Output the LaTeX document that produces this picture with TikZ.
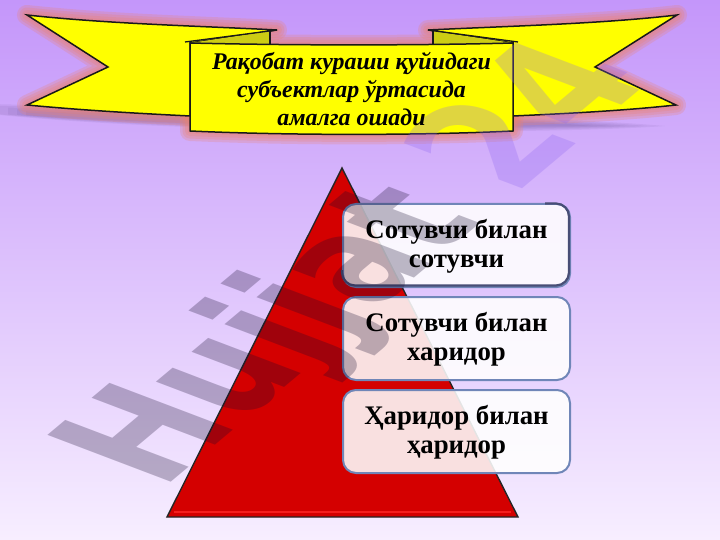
\documentclass[tikz,border=0pt]{standalone}
\usepackage{fontspec}
\setmainfont{Liberation Serif}
\newfontfamily\wmfont{DejaVu Sans}
\definecolor{bgtop}{RGB}{196,150,250}
\definecolor{bgmid}{RGB}{226,205,250}
\definecolor{bgbot}{RGB}{247,238,255}
\definecolor{glowc}{RGB}{235,130,110}
\definecolor{shadowc}{RGB}{70,50,110}
\definecolor{olive}{RGB}{205,205,20}
\definecolor{ribbon}{RGB}{255,255,0}
\definecolor{trired}{RGB}{212,0,0}
\definecolor{trilight}{RGB}{245,30,30}
\definecolor{boxedge}{RGB}{112,134,184}
\definecolor{boxdark}{RGB}{72,78,118}
\definecolor{wmgray}{RGB}{20,10,45}
\definecolor{wmviolet}{RGB}{140,100,240}
\tikzset{
  ribbonshape/.style={fill=ribbon,draw=black!90,line width=1.5pt,line join=miter},
  glow/.style={draw=glowc,fill=glowc,opacity=.25,line join=round},
  pane/.style={draw=boxedge,line width=2pt,fill=white,fill opacity=.88,rounded corners=13pt},
  panetext/.style={font=\fontsize{26.8}{28.5}\selectfont\bfseries,align=center,text=black,inner sep=0pt,yshift=-1pt},
  bannertext/.style={font=\fontsize{23.9}{28}\selectfont\bfseries\itshape,align=center,text=black,inner sep=0pt},
  wmtext/.style={font=\wmfont\bfseries\fontsize{181}{181}\selectfont,anchor=base west,inner sep=0pt,transform shape}
}
\newcommand{\lefttail}{(27,15) .. controls (110,24) and (200,26) .. (277,30) -- (190,43) -- (190,116) .. controls (130,113) and (80,110) .. (27,105) -- (108,67) -- cycle}
\newcommand{\righttail}{(677,15) .. controls (600,24) and (510,26) .. (428,30) -- (513,43) -- (513,116) .. controls (580,113) and (630,110) .. (676,105) -- (595,67) -- cycle}
\newcommand{\midpanel}{(190,43) .. controls (290,45.5) and (420,45.5) .. (513,43) -- (513,131) .. controls (420,135.5) and (290,135.5) .. (190,131) -- cycle}
\begin{document}
\begin{tikzpicture}[x=1pt,y=-1pt]
\useasboundingbox (0,0) rectangle (720,540);
\shade[top color=bgtop,middle color=bgmid,bottom color=bgbot] (0,0) rectangle (720,540);
% soft shadow below the banner
\foreach \d in {0,3,6,9,12}{
  \fill[shadowc,opacity=.07] ({-10+\d*3},{104+\d*.6}) .. controls (150,{108+\d*.6}) and (500,{112+\d*.4}) .. ({665-\d*6},{126}) .. controls (560,{134-\d*.6}) and (200,{136-\d*.6}) .. ({-10+\d*3},{114+\d*.1}) -- cycle;
}
% glow
\foreach \w in {20,15,10,5}{
  \path[glow,line width=\w pt] \lefttail;
  \path[glow,line width=\w pt] \righttail;
  \path[glow,line width=\w pt] \midpanel;
}
% ribbon
\path[ribbonshape] \lefttail;
\path[ribbonshape] \righttail;
\fill[olive] (270,31) -- (270,44) -- (190,43) -- cycle;
\fill[olive] (433,31) -- (433,44) -- (513,43) -- cycle;
\draw[black!90,line width=1.3pt] (270,31) -- (270,44);
\draw[black!90,line width=1.3pt] (433,31) -- (433,44);
\path[ribbonshape] \midpanel;
\draw[black!90,line width=1.3pt] (277,30) -- (185,42);
\draw[black!90,line width=1.3pt] (428,30) -- (518,42);
% triangle
\coordinate (apex) at (342,168);
\coordinate (tl) at (167,517);
\coordinate (tr) at (518,517);
\fill[trired] (apex) -- (tl) -- (tr) -- cycle;
\draw[trilight,line width=2pt] (174,511.5) -- (511,511.5);
\draw[black!85,line width=1.4pt,line join=miter] (apex) -- (tl) -- (tr) -- cycle;
% panes
\node[pane,minimum width=227pt,minimum height=83pt,inner sep=0pt,anchor=north west] (one) at (342,203) {};
\node[pane,minimum width=227pt,minimum height=83pt,inner sep=0pt,anchor=north west] (two) at (342,296) {};
\node[pane,minimum width=227pt,minimum height=83pt,inner sep=0pt,anchor=north west] (three) at (342,389) {};
\draw[boxdark,line width=2.2pt,rounded corners=13pt] (545,203.5) -- (569,203.5) -- (569,285.5) -- (342,285.5) -- (342,270);
% watermark
\begin{scope}[cm={.525,.44,-.935,.355,(162,490)}]
  \node[wmtext,text=wmgray,text opacity=.27] (wma) at (0,0) {Hujjat};
\end{scope}
\begin{scope}[cm={.56,.47,-.935,.355,(514,196)}]
  \node[wmtext,text=wmviolet,text opacity=.27] (wmb) at (0,0) {24};
\end{scope}
% text
\node[bannertext] (title) at (351.5,89) {Рақобат кураши қуйидаги\\субъектлар ўртасида\\амалга ошади};
\node[panetext] at (one.center) {Сотувчи билан\\сотувчи};
\node[panetext] at (two.center) {Сотувчи билан\\харидор};
\node[panetext] at (three.center) {Ҳаридор билан\\ҳаридор};
\end{tikzpicture}
\end{document}
